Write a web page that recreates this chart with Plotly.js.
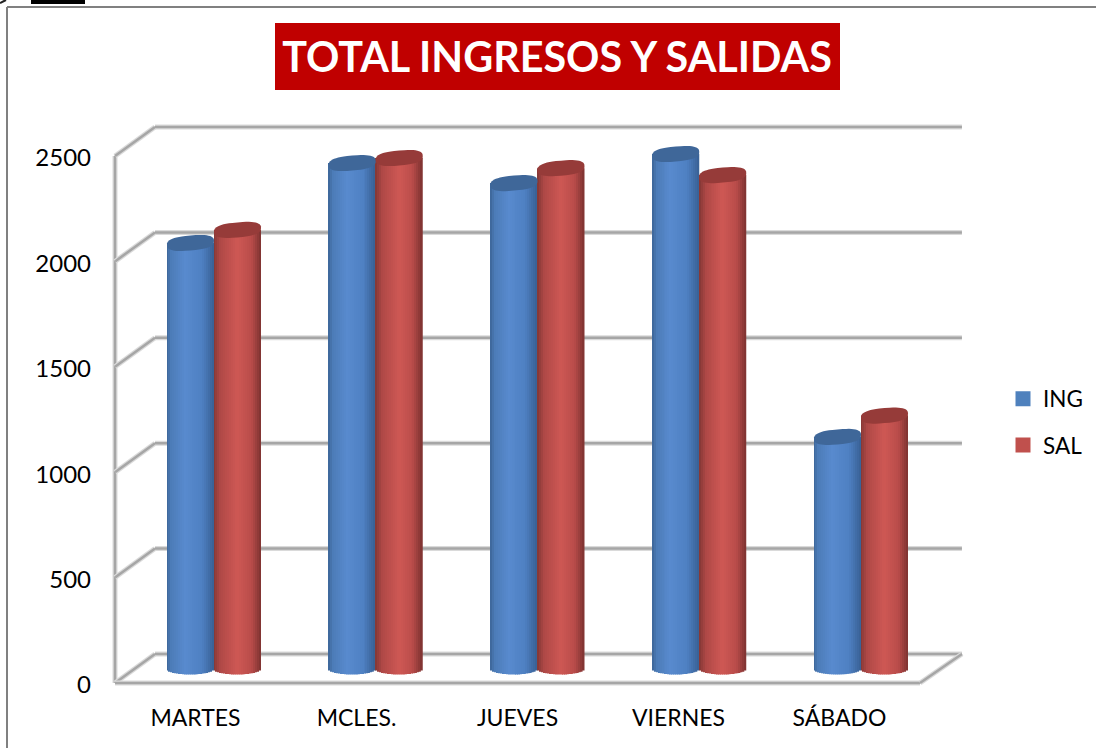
<!DOCTYPE html>
<html>
<head>
<meta charset="utf-8">
<script src="https://cdn.plot.ly/plotly-3.0.1.min.js"></script>
<style>html,body{margin:0;padding:0;background:#fff;overflow:hidden}#c{width:1096px;height:748px}</style>
</head>
<body>
<div id="c"></div>
<script>
const categories = ['MARTES','MCLES.','JUEVES','VIERNES','SÁBADO'];
const ingValues = [2021, 2400, 2305, 2443, 1101];
const salValues = [2083, 2424, 2376, 2343, 1202];
const yTicks = [0, 500, 1000, 1500, 2000, 2500];
const titleText = 'TOTAL INGRESOS Y SALIDAS';

// page geometry
const W = 1096, H = 748;
const plot = {l:110, r:970, t:120, b:690};
const pxPerCat = 161, pxPerUnit = 0.2108;
const xOfCat0 = 195.5, yOfZero = 683;
const xRange = [(plot.l-xOfCat0)/pxPerCat, (plot.r-xOfCat0)/pxPerCat];
const yRange = [(yOfZero-plot.b)/pxPerUnit, (yOfZero-plot.t)/pxPerUnit];
const depthX = 40/pxPerCat, depthY = 29/pxPerUnit;
const paperX = p => (p-plot.l)/(plot.r-plot.l);
const paperY = p => (plot.b-p)/(plot.b-plot.t);

// cylinder geometry
const N = 24;
const barW = 47/pxPerCat;
const barPitch = 161.75/pxPerCat;
const barPos = categories.map((_,i)=>i*barPitch);
const barBase = 14/pxPerUnit;       // bars stand halfway into the floor depth
const bottomRy = 5.5/pxPerUnit;
const capRy = 7.5/pxPerUnit;
const capTilt = 2/pxPerUnit;
const starts = {ing: -28.5/pxPerCat, sal: 18.5/pxPerCat};

function mix(a,b,t){return a.map((v,i)=>Math.round(v+(b[i]-v)*t));}
function shade(stops,t){
  for(let i=1;i<stops.length;i++){
    if(t<=stops[i][0]){
      const s=stops[i-1], e=stops[i];
      return 'rgb('+mix(s[1],e[1],(t-s[0])/(e[0]-s[0])).join(',')+')';
    }
  }
  return 'rgb('+stops[stops.length-1][1].join(',')+')';
}
const blueStops=[[0,[60,100,150]],[0.1,[76,124,184]],[0.4,[88,138,206]],[0.75,[78,128,194]],[1,[56,96,148]]];
const redStops=[[0,[130,55,52]],[0.15,[175,72,70]],[0.5,[206,88,84]],[0.8,[185,76,74]],[1,[125,50,48]]];

const traces = [];
function addSeries(name, values, start, stops, legendColor){
  const inset = 4/pxPerCat;
  traces.push({type:'bar', name:name, x:barPos, y:values.map(v=>v-20),
    base:values.map(()=>barBase+10), width:barW-2*inset, offset:start+inset,
    marker:{color:legendColor, line:{width:3,color:legendColor}}, legendgroup:name, showlegend:true,
    customdata:values, hovertemplate:name+': %{customdata}<extra></extra>'});
  const sw = barW/N;
  for(let k=0;k<N;k++){
    const u=(k+0.5)/N, c=2*u-1;
    const drop=bottomRy*Math.sqrt(Math.max(0,1-c*c));
    traces.push({type:'bar', name:name, x:barPos,
      y:values.map(v=>v+drop), base:values.map(()=>barBase-drop),
      width:sw, offset:start+k*sw,
      marker:{color:shade(stops,u), line:{width:0}}, legendgroup:name, showlegend:false, hoverinfo:'skip'});
  }
}
addSeries('ING', ingValues, starts.ing, blueStops, '#4F81BD');
addSeries('SAL', salValues, starts.sal, redStops, '#C0504D');

const shapes = [];
const gray = '#A6A6A6', soft = '#DADADA';
function seg(x0,y0,x1,y1){
  shapes.push({type:'line',layer:'below',xref:'x',yref:'y',x0,y0,x1,y1,line:{color:soft,width:5}});
  shapes.push({type:'line',layer:'below',xref:'x',yref:'y',x0,y0,x1,y1,line:{color:gray,width:2.5}});
}
const axL=-0.5, axR=categories.length-0.5, axTop=yTicks[yTicks.length-1];
seg(axL,0,axL,axTop);
yTicks.forEach(v=>{
  seg(axL,v,axL+depthX,v+depthY);
  seg(axL+depthX,v+depthY,axR+depthX+0.012,v+depthY);
});
seg(axL,0,axR,0);
seg(axR,0,axR+depthX+0.012,depthY);

function capPath(i,v,start){
  const cx=barPos[i]+start+barW/2, cy=v+barBase, pts=[];
  const sp=(c)=>Math.sign(c)*Math.pow(Math.abs(c),0.75);
  for(let a=0;a<48;a++){
    const t=a/48*2*Math.PI, ex=sp(Math.cos(t)), ey=sp(Math.sin(t));
    pts.push((a?'L':'M')+(cx+ex*barW/2).toFixed(4)+','+(cy+ey*capRy+ex*capTilt).toFixed(2));
  }
  return pts.join(' ')+' Z';
}
ingValues.forEach((v,i)=>shapes.push({type:'path',layer:'above',xref:'x',yref:'y',path:capPath(i,v,starts.ing),fillcolor:'#3F6799',line:{width:0}}));
salValues.forEach((v,i)=>shapes.push({type:'path',layer:'above',xref:'x',yref:'y',path:capPath(i,v,starts.sal),fillcolor:'#963B39',line:{width:0}}));

// title plate, outer frame, clipped black object at the top edge
shapes.push({type:'rect',layer:'below',xref:'paper',yref:'paper',x0:paperX(275),x1:paperX(840),y0:paperY(90),y1:paperY(23),fillcolor:'#C00000',line:{width:0}});
shapes.push({type:'line',layer:'below',xref:'paper',yref:'paper',x0:paperX(7),x1:paperX(W),y0:paperY(7),y1:paperY(7),line:{color:'#808080',width:2}});
shapes.push({type:'line',layer:'below',xref:'paper',yref:'paper',x0:paperX(7),x1:paperX(7),y0:paperY(7),y1:paperY(H),line:{color:'#808080',width:2}});
shapes.push({type:'rect',layer:'below',xref:'paper',yref:'paper',x0:paperX(31),x1:paperX(85),y0:paperY(4),y1:paperY(0),fillcolor:'#000',line:{width:0}});
shapes.push({type:'line',layer:'below',xref:'paper',yref:'paper',x0:paperX(0),x1:paperX(6),y0:paperY(3),y1:paperY(0),line:{color:'#222',width:2}});

const font='Lato, "Open Sans", sans-serif';
const layout = {
  width:W, height:H, autosize:false,
  paper_bgcolor:'#fff', plot_bgcolor:'rgba(0,0,0,0)',
  margin:{l:plot.l, r:W-plot.r, t:plot.t, b:H-plot.b, pad:0, autoexpand:false},
  barmode:'overlay',
  font:{family:font, color:'#000', size:23},
  title:{text:titleText, xref:'container', yref:'container', x:557/W, y:1-58/H, xanchor:'center', yanchor:'middle',
    font:{family:font, size:41.3, color:'#fff', weight:700}},
  xaxis:{type:'linear', range:xRange, tickvals:categories.map((_,i)=>i), ticktext:categories,
    showgrid:false, zeroline:false, showline:false, ticks:'', ticklabelstandoff:12, tickfont:{family:font,size:23,color:'#000'}, fixedrange:true},
  yaxis:{type:'linear', range:yRange, tickvals:yTicks, ticktext:yTicks.map(String),
    showgrid:false, zeroline:false, showline:false, ticks:'', ticklabelstandoff:18, ticklabelshift:2, tickfont:{family:font,size:24,color:'#000'}, fixedrange:true},
  legend:{x:paperX(1003), y:paperY(422), xanchor:'left', yanchor:'middle', traceorder:'grouped', tracegroupgap:14,
    font:{family:font,size:22.5,color:'#000'}, bgcolor:'rgba(0,0,0,0)', itemclick:false, itemdoubleclick:false, itemwidth:30},
  shapes:shapes
};
Plotly.newPlot('c', traces, layout, {displayModeBar:false});
</script>
</body>
</html>
